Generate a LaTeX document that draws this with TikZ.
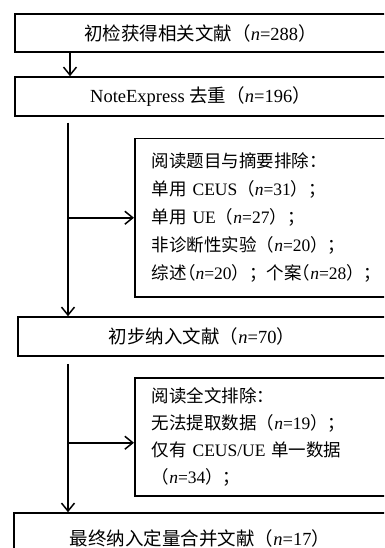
\documentclass[tikz,border=0pt]{standalone}
\usepackage{fontspec}
\setmainfont{Liberation Serif}
\newfontfamily\cjk{Noto Sans CJK SC}
\newfontfamily\cjkh[RawFeature=+halt]{Noto Sans CJK SC}
\newcommand\zh[1]{{\cjk #1}}
\newcommand\zhh[1]{{\cjkh #1}}
\usetikzlibrary{arrows.meta,calc}
\begin{document}
\begin{tikzpicture}[x=1pt,y=-1pt,
  box/.style={draw,line width=1.5pt,inner sep=0pt,font=\fontsize{17.5}{28}\selectfont},
  mainbox/.style={box,align=center,font=\fontsize{18.5}{22}\selectfont},
  exbox/.style={box,align=left,anchor=north west,inner xsep=17pt},
  arr/.style={line width=1.5pt,-{Straight Barb[length=8pt,width=13pt,line width=1.5pt]}}]
\useasboundingbox (0,0) rectangle (384,548);
\clip (0,0) rectangle (384,548);
\node[mainbox,minimum width=371pt,minimum height=38pt] (b1) at (200.5,33)
  {\zh{初检获得相关文献（}\textit{n}=288\zh{）}};
\node[mainbox,minimum width=371pt,minimum height=39pt] (b2) at (200.5,96.5)
  {NoteExpress \zh{去重（}\textit{n}=196\zh{）}};
\node[exbox,text width=226pt,minimum height=158pt] (b3) at (134,138)
  {\zh{阅读题目与摘要排除：}\\
   \zh{单用} CEUS\zh{（}\textit{n}=31\zh{）；}\\
   \zh{单用} UE\zh{（}\textit{n}=27\zh{）；}\\
   \zh{非诊断性实验（}\textit{n}=20\zh{）；}\\
   \zh{综述}\zhh{（}\textit{n}=20\zh{）；个案}\zhh{（}\textit{n}=28\zh{）；}};
\node[mainbox,minimum width=368pt,minimum height=39pt] (b4) at (202,336.5)
  {\zh{初步纳入文献（}\textit{n}=70\zh{）}};
\node[exbox,text width=226pt,minimum height=118pt,font=\fontsize{17.5}{27}\selectfont] (b5) at (134,377)
  {\zh{阅读全文排除：}\\
   \zh{无法提取数据（}\textit{n}=19\zh{）；}\\
   \zh{仅有} CEUS/UE \zh{单一数据}\\
   \zh{（}\textit{n}=34\zh{）；}};
\node[mainbox,minimum width=372pt,minimum height=50pt] (b6) at (200,538)
  {\zh{最终纳入定量合并文献（}\textit{n}=17\zh{）}};
\coordinate (va) at (70,0);
\coordinate (vb) at (68,0);
\coordinate (h5) at ($(b5.west)+(0,6)$);
\draw[arr] (b1.south -| va) -- (b2.north -| va);
\draw[arr,shorten <=6pt] (b2.south -| vb) -- (b4.north -| vb);
\draw[arr] (b3.west -| vb) -- (b3.west);
\draw[arr,shorten <=7pt] (b4.south -| vb) -- (b6.north -| vb);
\draw[arr] (h5 -| vb) -- (h5);
\end{tikzpicture}
\end{document}
